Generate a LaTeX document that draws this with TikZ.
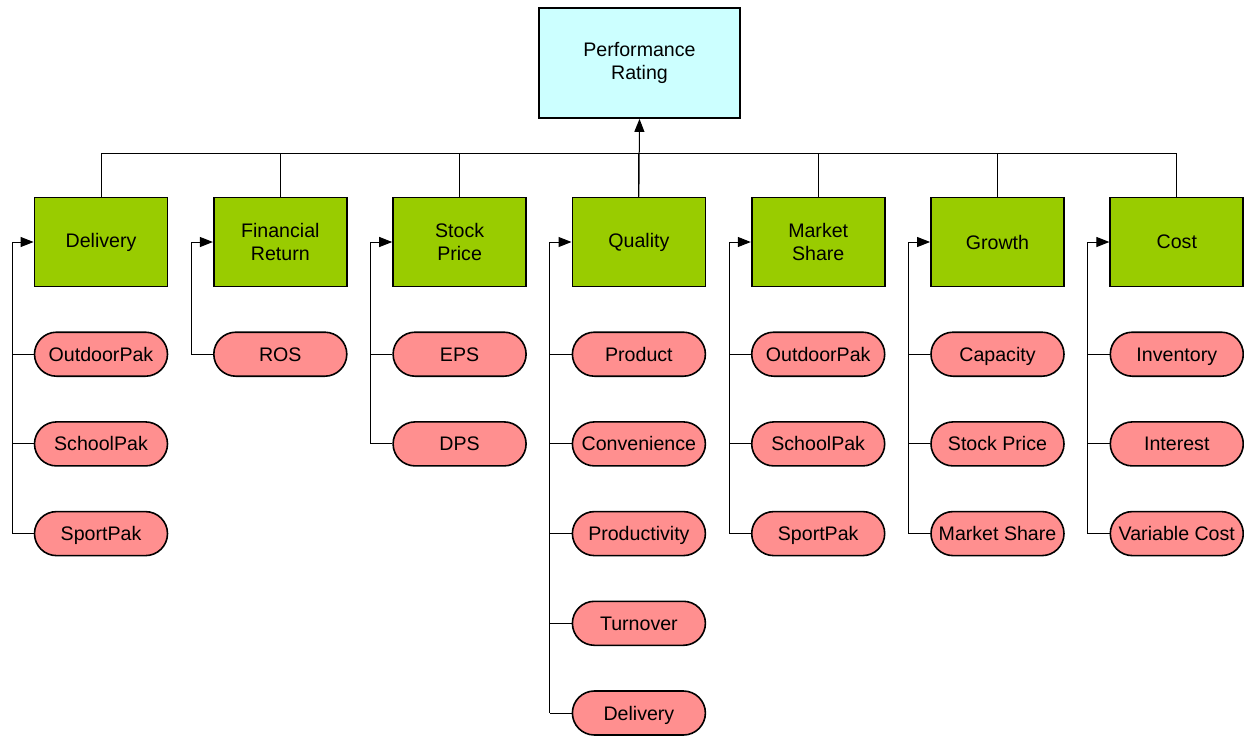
\documentclass[tikz,border=0pt]{standalone}
\usepackage{fontspec}
\setmainfont{Liberation Sans}
\usetikzlibrary{arrows.meta}
\definecolor{topfill}{HTML}{CCFFFF}
\definecolor{critfill}{HTML}{99CC00}
\definecolor{subfill}{HTML}{FF8F8F}
\begin{document}
\begin{tikzpicture}[x=0.5pt, y=-0.5pt,
  goal/.style={draw, line width=0.9pt, fill=topfill, minimum width=100.5pt,
               minimum height=55pt, inner sep=0, align=center,
               font=\fontsize{9.8}{11.5}\selectfont},
  crit/.style={goal, fill=critfill, minimum width=66.5pt, minimum height=44.5pt},
  sub/.style={draw, line width=0.8pt, fill=subfill, minimum width=66.5pt,
              minimum height=22pt, rounded corners=11pt, inner sep=0,
              text height=7pt, text depth=0pt,
              font=\fontsize{9.8}{11.5}\selectfont},
  link/.style={line width=0.5pt},
  arr/.style={link, -{Triangle[length=6.5pt, width=5pt]}}]
\useasboundingbox (0,0) rectangle (1244,735);
\node[goal] (rating) at (639.5, 63) {Performance\\Rating};
\coordinate (bus) at (639.5, 153);
\foreach \i/\t/\k/\items in {
    0/Delivery/3/{OutdoorPak,SchoolPak,SportPak},
    1/{Financial\\Return}/1/{ROS},
    2/{Stock\\Price}/2/{EPS,DPS},
    3/Quality/5/{Product,Convenience,Productivity,Turnover,Delivery},
    4/{Market\\Share}/3/{OutdoorPak,SchoolPak,SportPak},
    5/Growth/3/{Capacity,Stock Price,Market Share},
    6/Cost/3/{Inventory,Interest,Variable Cost}} {
  \node[crit] (c\i) at (101+\i*179.3, 242) {\t};
  \coordinate (b\i) at (12+\i*179.3, 242);
  \draw[link] (c\i.north) |- (bus);
  \foreach \s [count=\j] in \items
    \node[sub] (s\i-\j) at (101+\i*179.3, 264.5+\j*89.7) {\s};
  \foreach \j in {1,...,\k}
    \draw[link] (s\i-\j.west) -- (s\i-\j.west -| b\i);
  \draw[arr] (s\i-\k.west -| b\i) -- (b\i) -- (c\i.west);
}
\draw[arr] (c3.north) -- (rating.south);
\end{tikzpicture}
\end{document}
